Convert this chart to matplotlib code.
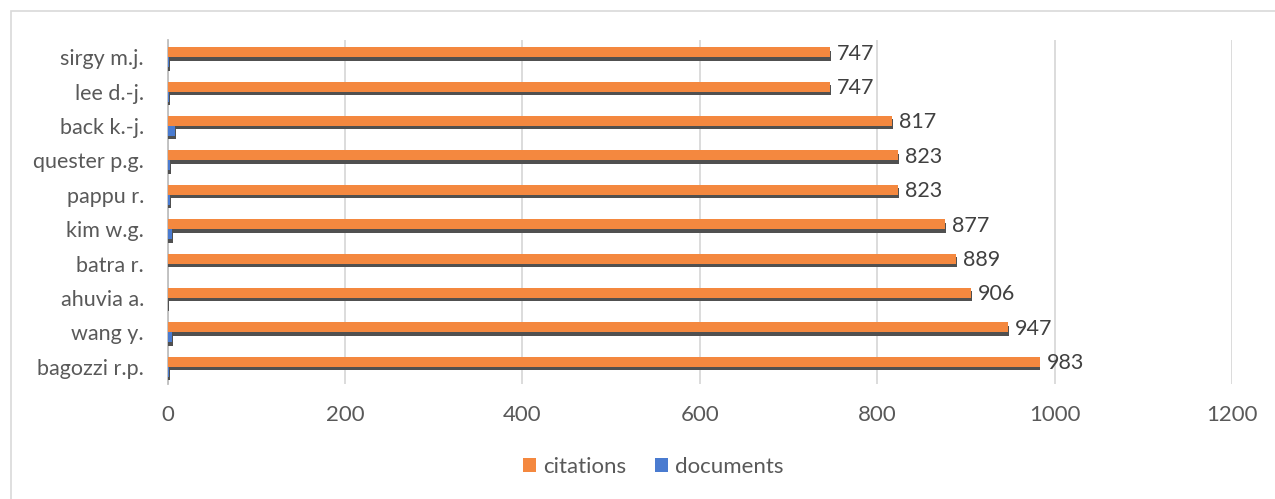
import matplotlib
matplotlib.use("Agg")
import matplotlib.pyplot as plt
import matplotlib.patheffects as pe
from matplotlib.patches import Rectangle
import numpy as np

# data (bottom to top)
authors = ["bagozzi r.p.", "wang y.", "ahuvia a.", "batra r.", "kim w.g.",
           "pappu r.", "quester p.g.", "back k.-j.", "lee d.-j.", "sirgy m.j."]
citations = [983, 947, 906, 889, 877, 823, 823, 817, 747, 747]
documents = [2, 5, 1, 0, 5, 3, 3, 9, 2, 2]
xticks = [0, 200, 400, 600, 800, 1000, 1200]

plt.rcParams['font.family'] = ['Lato', 'DejaVu Sans']

W, H = 1275, 499
fig = plt.figure(figsize=(W / 100, H / 100), dpi=100)
ax = fig.add_axes([167.5 / W, 1 - 384 / H, (1232 - 167.5) / W, (384 - 40) / H])

y = np.arange(len(authors))
bh = 0.29
shadow = [pe.SimplePatchShadow(offset=(0.7, -2.4), shadow_rgbFace='#505050', alpha=1.0), pe.Normal()]

b1 = ax.barh(y + bh / 2, citations, height=bh, color='#F4883F', label='citations', zorder=3)
b2 = ax.barh(y - bh / 2, documents, height=bh, color='#4A7BD0', label='documents', zorder=3)
for b in list(b1) + list(b2):
    b.set_path_effects(shadow)

for yi, v in zip(y, citations):
    ax.annotate(str(v), xy=(v, yi + bh / 2), xytext=(5, -1), textcoords='offset points',
                ha='left', va='center', fontsize=15.5, color='#404040', zorder=4)

ax.set_xlim(0, 1200)
ax.set_ylim(-0.5, len(authors) - 0.5)
ax.set_xticks(xticks)
ax.set_xticklabels([str(t) for t in xticks], fontsize=16, color='#595959')
ax.set_yticks(y)
ax.set_yticklabels(authors, fontsize=15.5, color='#595959')
ax.tick_params(axis='both', length=0)
ax.tick_params(axis='x', pad=15)
ax.tick_params(axis='y', pad=17)
ax.grid(axis='x', color='#D9D9D9', linewidth=1.3, zorder=0)
for s in ['top', 'right', 'bottom']:
    ax.spines[s].set_visible(False)
ax.spines['left'].set_color('#BFBFBF')
ax.spines['left'].set_linewidth(1.3)
ax.spines['left'].set_zorder(2)

leg = fig.legend(handles=[b1, b2], labels=['citations', 'documents'], loc='center',
                 bbox_to_anchor=(653 / W, 1 - 467 / H), ncol=2, frameon=False,
                 fontsize=16, handlelength=0.6, handleheight=0.6, handletextpad=0.3,
                 columnspacing=1.3)
for t in leg.get_texts():
    t.set_color('#595959')
for h in leg.legend_handles:
    h.set_path_effects([])

fig.patches.append(Rectangle((11 / W, -10 / H), (W + 20) / W, (H - 11 + 10) / H,
                             transform=fig.transFigure, fill=False, clip_on=False,
                             edgecolor='#D9D9D9', linewidth=1.2))

fig.savefig('out.png', dpi=100)
